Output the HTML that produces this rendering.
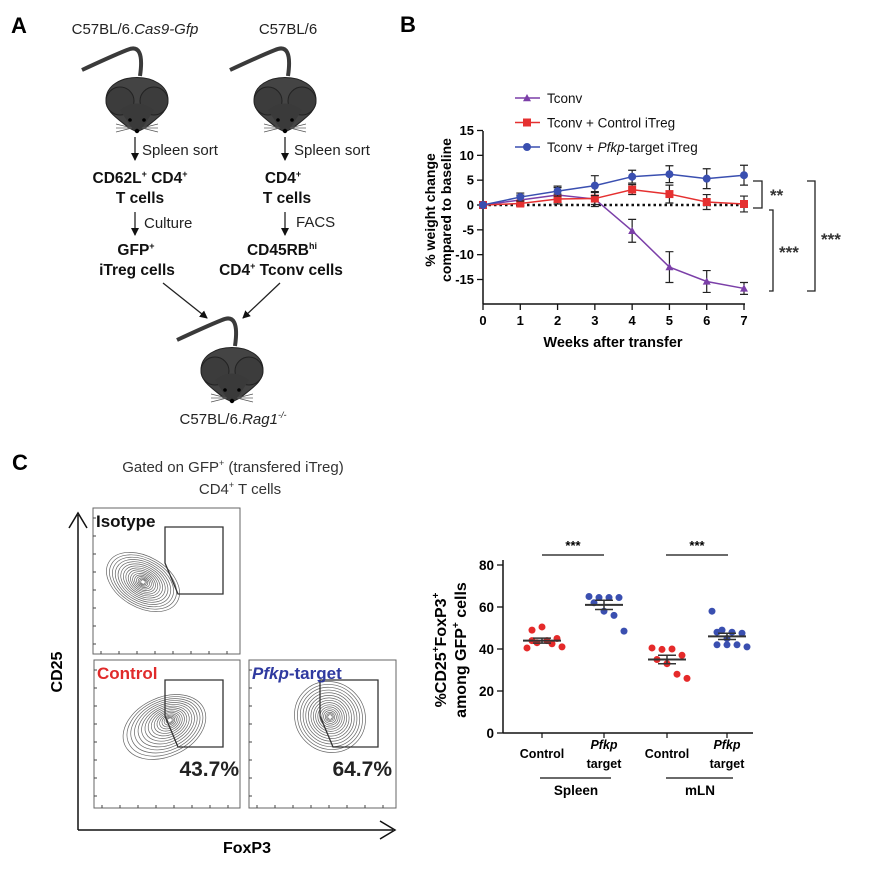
<!DOCTYPE html>
<html><head><meta charset="utf-8"><style>
html,body{margin:0;padding:0;background:#fff}
svg{display:block;font-family:"Liberation Sans",Arial,sans-serif}
</style></head><body>
<svg id="fig" width="877" height="874" viewBox="0 0 877 874" xmlns="http://www.w3.org/2000/svg">
<rect width="877" height="874" fill="#fff"/>
<defs>
<marker id="ah" markerWidth="8" markerHeight="8" refX="7" refY="4" orient="auto" markerUnits="userSpaceOnUse"><path d="M0,0 L8,4 L0,8 Z" fill="#111"/></marker>
</defs>
<g>
<text x="11" y="33" font-size="22" font-weight="bold">A</text>
<text x="135" y="34" font-size="15" text-anchor="middle" fill="#222">C57BL/6.<tspan font-style="italic">Cas9-Gfp</tspan></text>
<text x="288" y="34" font-size="15" text-anchor="middle" fill="#222">C57BL/6</text>
<g id="mice"></g>
<g stroke="#222" stroke-width="1.3" fill="none">
<line x1="135" y1="137" x2="135" y2="160" marker-end="url(#ah)"/>
<line x1="285" y1="137" x2="285" y2="160" marker-end="url(#ah)"/>
<line x1="135" y1="212" x2="135" y2="235" marker-end="url(#ah)"/>
<line x1="285" y1="212" x2="285" y2="235" marker-end="url(#ah)"/>
<line x1="163" y1="283" x2="207" y2="318" marker-end="url(#ah)"/>
<line x1="280" y1="283" x2="243" y2="318" marker-end="url(#ah)"/>
</g>
<g font-size="15" fill="#222">
<text x="142" y="155">Spleen sort</text>
<text x="294" y="155">Spleen sort</text>
<text x="144" y="228">Culture</text>
<text x="296" y="227">FACS</text>
</g>
<g font-size="15.5" font-weight="bold" fill="#111" text-anchor="middle">
<text x="140" y="183">CD62L<tspan font-size="9" dy="-6">+</tspan><tspan dy="6"> CD4</tspan><tspan font-size="9" dy="-6">+</tspan></text>
<text x="140" y="203">T cells</text>
<text x="283" y="183">CD4<tspan font-size="9" dy="-6">+</tspan></text>
<text x="287" y="203">T cells</text>
<text x="136" y="255">GFP<tspan font-size="9" dy="-6">+</tspan></text>
<text x="137" y="275">iTreg cells</text>
<text x="282" y="255">CD45RB<tspan font-size="9" dy="-6">hi</tspan></text>
<text x="281" y="275">CD4<tspan font-size="9" dy="-6">+</tspan><tspan dy="6"> Tconv cells</tspan></text>
</g>
<text x="233" y="424" font-size="15" text-anchor="middle" fill="#222">C57BL/6.<tspan font-style="italic">Rag1</tspan><tspan font-size="9" dy="-6" font-style="italic">-/-</tspan></text>
</g>
<g id="panelB">
<text x="400" y="32" font-size="22" font-weight="bold">B</text>
</g>
<g id="panelC">
<text x="12" y="470" font-size="22" font-weight="bold">C</text>
<text x="233" y="472" font-size="15" text-anchor="middle" fill="#333">Gated on GFP<tspan font-size="9" dy="-6">+</tspan><tspan dy="6"> (transfered iTreg)</tspan></text>
<text x="240" y="494" font-size="15" text-anchor="middle" fill="#333">CD4<tspan font-size="9" dy="-6">+</tspan><tspan dy="6"> T cells</tspan></text>
<g stroke="#111" stroke-width="1.5" fill="none">
<line x1="78" y1="830" x2="78" y2="515"/><path d="M69,528 L78,513 L87,528"/>
<line x1="78" y1="830" x2="393" y2="830"/><path d="M380,821 L395,830 L380,839"/>
</g>
<text x="62" y="672" font-size="16" font-weight="bold" text-anchor="middle" transform="rotate(-90 62 672)">CD25</text>
<text x="247" y="853" font-size="16" font-weight="bold" text-anchor="middle">FoxP3</text>
<g id="flow"></g>
<g id="scatter"></g>
</g>
</svg>
<script>
const NS='http://www.w3.org/2000/svg';
function mk(parent,tag,attrs,text){const e=document.createElementNS(NS,tag);for(const k in attrs)e.setAttribute(k,attrs[k]);if(text!==undefined)e.textContent=text;parent.appendChild(e);return e;}

function mouse(cx,ty,name){
  const g=mk(document.getElementById('mice'),'g',{});
  
  
  mk(g,'path',{d:`M${cx-55},${ty+2} Q${cx-25},${ty-12} ${cx-10},${ty-18} Q${cx+8},${ty-26} ${cx+3},${ty+8}`,stroke:'#3a3a3a','stroke-width':4,fill:'none'});
  mk(g,'path',{d:`M${cx-31},${ty+32} C${cx-31},${ty+2} ${cx+31},${ty+2} ${cx+31},${ty+32} C${cx+31},${ty+44} ${cx+20},${ty+50} ${cx+8},${ty+60} L${cx},${ty+64} L${cx-8},${ty+60} C${cx-20},${ty+50} ${cx-31},${ty+44} ${cx-31},${ty+32}Z`,fill:'#444',stroke:'#222','stroke-width':1});
  mk(g,'circle',{cx:cx-17,cy:ty+33,r:14,fill:'#3c3c3c',stroke:'#222'});
  mk(g,'circle',{cx:cx+17,cy:ty+33,r:14,fill:'#3c3c3c',stroke:'#222'});
  mk(g,'path',{d:`M${cx-17},${ty+42} Q${cx},${ty+29} ${cx+17},${ty+42} L${cx+4},${ty+62} L${cx-4},${ty+62}Z`,fill:'#3a3a3a'});
  mk(g,'circle',{cx:cx-7,cy:ty+52,r:1.8,fill:'#000'});
  mk(g,'circle',{cx:cx+7,cy:ty+52,r:1.8,fill:'#000'});
  mk(g,'circle',{cx:cx,cy:ty+63,r:2.2,fill:'#000'});
  [[-1,-4],[-1,0],[-1,4],[1,-4],[1,0],[1,4]].forEach(([s,d])=>mk(g,'line',{x1:cx+s*5,y1:ty+60,x2:cx+s*21,y2:ty+60+d,stroke:'#555','stroke-width':0.7}));
}
mouse(137,68,'donor-mouse');
mouse(285,68,'wt-mouse');
mouse(232,338,'recipient-mouse');

const weeks=[0,1,2,3,4,5,6,7];
const tconv=[0,1.0,2.0,1.2,-5.2,-12.5,-15.4,-16.8];
const tconvErr=[0,1.0,1.5,1.5,2.3,3.1,2.2,1.2];
const ctrl=[0,0.3,1.2,1.3,3.1,2.2,0.6,0.2];
const ctrlErr=[0,0.5,1.0,1.2,1.0,1.8,1.5,1.6];
const pfkp=[0,1.6,2.8,3.9,5.7,6.2,5.3,6.0];
const pfkpErr=[0,0.8,1.0,2.0,1.3,1.7,2.0,2.0];
const yTicksB=[15,10,5,0,-5,-10,-15];
const seriesNames=['Tconv','Tconv + Control iTreg','Tconv + Pfkp-target iTreg'];
(function(){
  const g=document.getElementById('panelB');
  const X=w=>483+w*(744-483)/7;
  const Y=v=>205-v*(74.5/15);
  const ax=mk(g,'g',{});
  
  
  mk(ax,'line',{x1:483,y1:131,x2:483,y2:304,stroke:'#111','stroke-width':1.5});
  mk(ax,'line',{x1:483,y1:304,x2:745,y2:304,stroke:'#111','stroke-width':1.5});
  yTicksB.forEach(t=>{mk(ax,'line',{x1:477,y1:Y(t),x2:483,y2:Y(t),stroke:'#111','stroke-width':1.3});
    const tx=mk(ax,'text',{x:474,y:Y(t)+4.5,'font-size':13,'font-weight':'bold','text-anchor':'end'},String(t));
    
    });
  weeks.forEach(w=>{mk(ax,'line',{x1:X(w),y1:304,x2:X(w),y2:310,stroke:'#111','stroke-width':1.3});
    const tx=mk(ax,'text',{x:X(w),y:325,'font-size':13,'font-weight':'bold','text-anchor':'middle'},String(w));
    
    });
  const xt=mk(g,'text',{x:613,y:347,'font-size':14.5,'font-weight':'bold','text-anchor':'middle'},'Weeks after transfer');
  
  
  const yt=mk(g,'text',{'font-size':14,'font-weight':'bold','text-anchor':'middle',transform:'translate(435,210) rotate(-90)'});
  
  
  mk(yt,'tspan',{x:0,y:0},'% weight change');
  mk(yt,'tspan',{x:0,y:16},'compared to baseline');
  mk(g,'line',{x1:483,y1:Y(0),x2:745,y2:Y(0),stroke:'#111','stroke-width':2.5,'stroke-dasharray':'2.5,3'});
  const defs=[[tconv,tconvErr,'#7b3fa8','tri','tconv'],[ctrl,ctrlErr,'#e53030','sq','control-itreg'],[pfkp,pfkpErr,'#3a4fb0','circ','pfkp-itreg']];
  function marker(gg,x,y,shape,col,s){
    if(shape==='tri')return mk(gg,'path',{d:`M${x},${y-s} L${x+s},${y+s*0.8} L${x-s},${y+s*0.8}Z`,fill:col});
    if(shape==='sq')return mk(gg,'rect',{x:x-s,y:y-s,width:2*s,height:2*s,fill:col});
    return mk(gg,'circle',{cx:x,cy:y,r:s,fill:col});
  }
  defs.forEach(([vals,errs,col,shape,nm])=>{
    const sg=mk(g,'g',{});
    
    
    mk(sg,'polyline',{points:vals.map((v,i)=>X(weeks[i])+','+Y(v)).join(' '),fill:'none',stroke:col,'stroke-width':1.5});
    vals.forEach((v,i)=>{
      const e=errs[i];
      if(e>0){mk(sg,'path',{d:`M${X(i)},${Y(v+e)}V${Y(v-e)}M${X(i)-4},${Y(v+e)}h8M${X(i)-4},${Y(v-e)}h8`,stroke:'#222','stroke-width':1.2,fill:'none'});}
      const m=marker(sg,X(weeks[i]),Y(v),shape,col,4);
      
      
    });
  });
  defs.forEach(([v,e,col,shape,nm],i)=>{
    const y=98+i*24.5;
    const lg=mk(g,'g',{});
    
    
    mk(lg,'line',{x1:515,y1:y,x2:540,y2:y,stroke:col,'stroke-width':1.5});
    marker(lg,527,y,shape,col,4);
    const t=mk(lg,'text',{x:547,y:y+5,'font-size':13.5,fill:'#111'});
    if(i<2)t.textContent=seriesNames[i];
    else{t.appendChild(document.createTextNode('Tconv + '));mk(t,'tspan',{'font-style':'italic'},'Pfkp');t.appendChild(document.createTextNode('-target iTreg'));}
  });
  const br=mk(g,'g',{stroke:'#222','stroke-width':1.3,fill:'none'});
  
  
  mk(br,'path',{d:'M753,181 H762 V208 H753'});
  mk(br,'path',{d:'M769,210 H773 V291 H769'});
  mk(br,'path',{d:'M807,181 H815 V291 H807'});
  [[770,201,'**'],[779,258,'***'],[821,245,'***']].forEach(([x,y,s])=>{const t=mk(g,'text',{x:x,y:y,'font-size':17,'font-weight':'bold',fill:'#333'},s);
    
    });
})();

(function(){
  const g=document.getElementById('flow');
  const boxes=[[93,508,147,146,'isotype-plot','Isotype','#111',143,582,-60,0],[94,660,146,148,'control-plot','Control','#e02a2a',170,720,-25,1],[249,660,147,148,'pfkp-target-plot','Pfkp-target','#2f3aa0',330,717,-45,2]];
  boxes.forEach(([x,y,w,h,nm,lab,col,cx,cy,rot,k])=>{
    const pg=mk(g,'g',{});
    
    
    mk(pg,'rect',{x:x,y:y,width:w,height:h,fill:'#fff',stroke:'#666','stroke-width':1});
    for(let i=0;i<8;i++){mk(pg,'line',{x1:x+8+i*18,y1:y+h-3,x2:x+8+i*18,y2:y+h,stroke:'#444','stroke-width':1});mk(pg,'line',{x1:x,y1:y+10+i*18,x2:x+3,y2:y+10+i*18,stroke:'#444','stroke-width':1});}
    const n=16;
    for(let i=0;i<n;i++){const f=Math.pow(1-i/n,1.4);
      const rx=(k===0?24:k===1?42:33)*f+1.5, ry=(k===0?38:k===1?28:35)*f+1.5;
      const ox=(k===1? -8*f : 0), oy=(k===1? 4*f:0);
      mk(pg,'ellipse',{cx:cx+ox,cy:cy+oy,rx:rx,ry:ry,transform:`rotate(${rot} ${cx} ${cy})`,fill:'none',stroke:'#666','stroke-width':0.7});}
    const gx=k===2?320:165, gy=k===0?527:680;
    mk(pg,'path',{d:`M${gx},${gy} H${gx+58} V${gy+67} H${gx+13} L${gx},${gy+36} Z`,fill:'none',stroke:'#333','stroke-width':1.3});
    const t=mk(pg,'text',{x:x+3,y:y+19,'font-size':17,'font-weight':'bold',fill:col});
    if(k===2){mk(t,'tspan',{'font-style':'italic'},'Pfkp');t.appendChild(document.createTextNode('-target'));}else t.textContent=lab;
    
    
  });
  [[239,776,'43.7%'],[392,776,'64.7%']].forEach(([x,y,s])=>{const t=mk(g,'text',{x:x,y:y,'font-size':21,'font-weight':'bold','text-anchor':'end',fill:'#222'},s);
    
    });
})();

const groups=['Spleen Control','Spleen Pfkp target','mLN Control','mLN Pfkp target'];
const spleenCtrl=[40.5,43,44,45,49,50.5,42.5,41,44];
const spleenPfkp=[65,64.5,64.5,64.5,62,58,56,48.5];
const mlnCtrl=[40.5,39.8,40,37,35,33,28,26];
const mlnPfkp=[58,49,48,47.5,48,45,42,41,42,42];
const means=[44,61,35,46];
const sems=[1.2,2.2,2,1.5];
const yTicksC=[0,20,40,60,80];
(function(){
  const g=document.getElementById('scatter');
  const Y=v=>733-v*(168/80);
  const xs=[542,604,667,727];
  mk(g,'line',{x1:503,y1:560,x2:503,y2:733,stroke:'#111','stroke-width':1.5});
  mk(g,'line',{x1:503,y1:733,x2:753,y2:733,stroke:'#111','stroke-width':1.5});
  yTicksC.forEach(t=>{mk(g,'line',{x1:497,y1:Y(t),x2:503,y2:Y(t),stroke:'#111','stroke-width':1.3});
    const tx=mk(g,'text',{x:494,y:Y(t)+5,'font-size':13.5,'font-weight':'bold','text-anchor':'end'},String(t));
    
    });
  xs.forEach(x=>mk(g,'line',{x1:x,y1:733,x2:x,y2:738,stroke:'#111','stroke-width':1.2}));
  const yt=mk(g,'text',{'font-size':16,'font-weight':'bold','text-anchor':'middle',transform:'translate(446,650) rotate(-90)'});
  
  
  const t1=mk(yt,'tspan',{x:0,y:0});t1.textContent='%CD25';mk(yt,'tspan',{'font-size':10,dy:-7},'+');mk(yt,'tspan',{dy:7},'FoxP3');mk(yt,'tspan',{'font-size':10,dy:-7},'+');
  mk(yt,'tspan',{x:0,y:20},'among GFP');mk(yt,'tspan',{'font-size':10,dy:-7},'+');mk(yt,'tspan',{dy:7},' cells');
  const sets=[spleenCtrl,spleenPfkp,mlnCtrl,mlnPfkp];
  const cols=['#e52a2a','#3a4fb0','#e52a2a','#3a4fb0'];
  sets.forEach((vals,gi)=>{
    const sg=mk(g,'g',{});
    
    
    vals.forEach((v,i)=>{const dx=((i%4)-1.5)*10+(i>=4?5:0);
      const c=mk(sg,'circle',{cx:xs[gi]+dx,cy:Y(v),r:3.5,fill:cols[gi]});
      
      });
    const m=means[gi],s=sems[gi];
    mk(sg,'line',{x1:xs[gi]-19,y1:Y(m),x2:xs[gi]+19,y2:Y(m),stroke:'#333','stroke-width':2});
    mk(sg,'path',{d:`M${xs[gi]},${Y(m+s)}V${Y(m-s)}M${xs[gi]-9},${Y(m+s)}h18M${xs[gi]-9},${Y(m-s)}h18`,stroke:'#333','stroke-width':1.5,fill:'none'});
  });
  [[542,604],[666,728]].forEach(([a,b])=>{mk(g,'line',{x1:a,y1:555,x2:b,y2:555,stroke:'#111','stroke-width':1.3});
    const t=mk(g,'text',{x:(a+b)/2,y:550,'font-size':13,'font-weight':'bold','text-anchor':'middle'},'***');
    
    });
  [[542,'Control'],[667,'Control']].forEach(([x,s])=>{const t=mk(g,'text',{x:x,y:758,'font-size':12.5,'font-weight':'bold','text-anchor':'middle'},s);
    
    });
  [604,727].forEach(x=>{const t=mk(g,'text',{'font-size':12.5,'font-weight':'bold','text-anchor':'middle'});
    
    
    mk(t,'tspan',{x:x,y:749,'font-style':'italic'},'Pfkp');mk(t,'tspan',{x:x,y:768},'target');});
  [[540,611,576,'Spleen'],[666,733,700,'mLN']].forEach(([a,b,c,s])=>{mk(g,'line',{x1:a,y1:778,x2:b,y2:778,stroke:'#111','stroke-width':1.2});
    const t=mk(g,'text',{x:c,y:795,'font-size':13.5,'font-weight':'bold','text-anchor':'middle'},s);
    
    });
})();
</script>
</body></html>
